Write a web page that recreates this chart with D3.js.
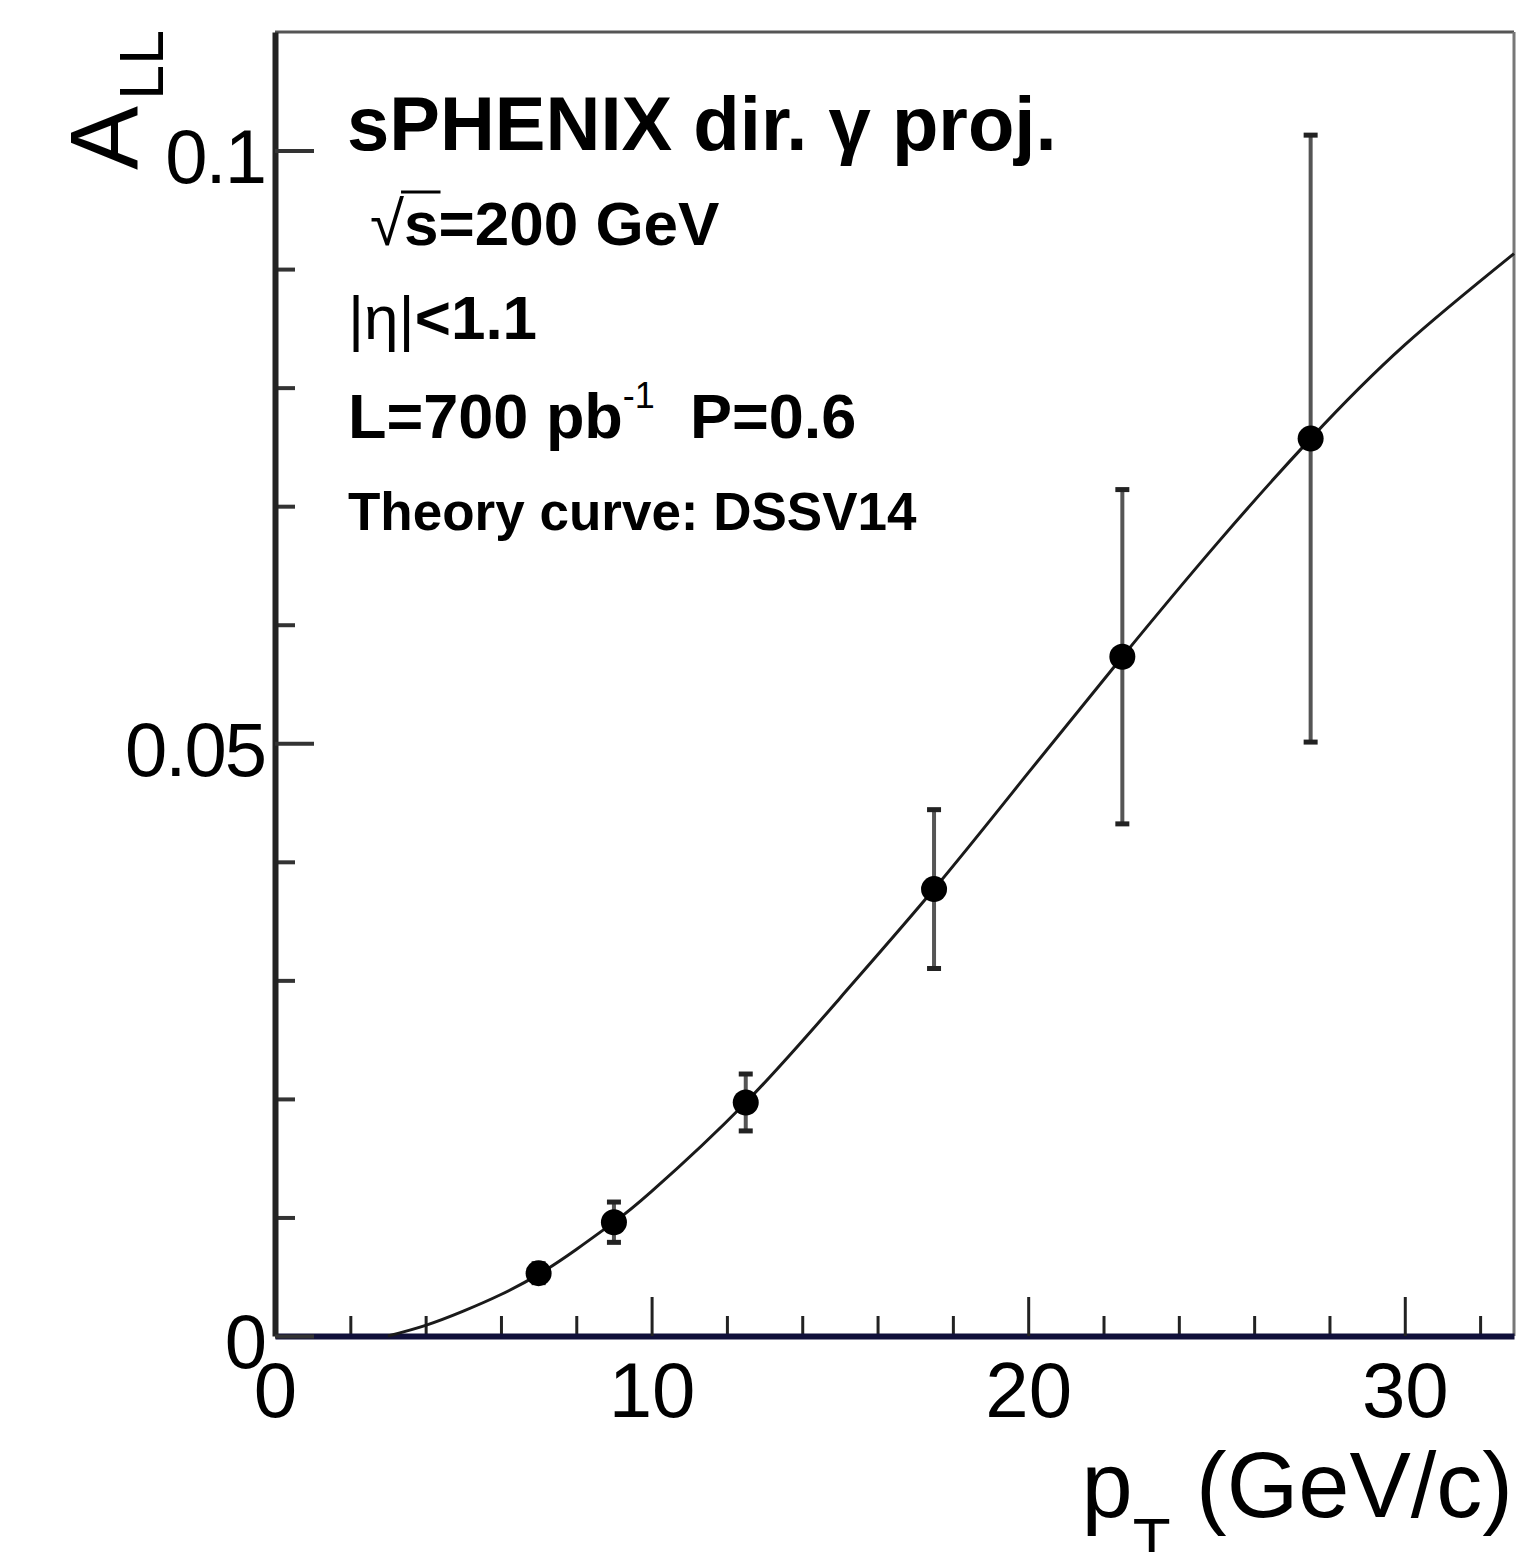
<!DOCTYPE html>
<html>
<head>
<meta charset="utf-8">
<script src="https://cdn.jsdelivr.net/npm/d3@7"></script>
<style>
  body { margin: 0; background: #fff; }
  svg { display: block; font-family: "Liberation Sans", Arial, sans-serif; }
</style>
</head>
<body>
<svg width="1521" height="1552"></svg>
<script>
// ---- Dados
const ptPoints = [7, 9, 12.5, 17.5, 22.5, 27.5];
const allPoints = [0.0053, 0.0096, 0.0197, 0.0377, 0.0573, 0.0757];
const allErrors = [0.0008, 0.0017, 0.0024, 0.0067, 0.0141, 0.0256];

const ptCurve = [3, 4, 5, 6, 7, 8, 9, 10, 12.5, 15, 17.5, 20, 22.5, 25, 27.5, 30, 32.9];
const allCurve = [0, 0.0009, 0.0021, 0.0035, 0.0052, 0.0073, 0.0096, 0.0122, 0.0197, 0.0285,
                  0.0377, 0.0475, 0.0573, 0.0668, 0.0757, 0.0836, 0.0913];

const xMajorTicks = [0, 10, 20, 30];
const xMinorTicks = [2, 4, 6, 8, 12, 14, 16, 18, 22, 24, 26, 28, 32];
const yMajorTicks = [0, 0.05, 0.1];
const yMinorTicks = [0.01, 0.02, 0.03, 0.04, 0.06, 0.07, 0.08, 0.09];

const svg = d3.select('svg');
const margens = { left: 275, right: 7, top: 32, bottom: 216 };
const W = +svg.attr('width'), H = +svg.attr('height');

// ---- Escalas
const mapX = d3.scaleLinear().domain([0, 32.9]).range([margens.left, W - margens.right]);
const mapY = d3.scaleLinear().domain([0, 0.11]).range([H - margens.bottom, margens.top]);

// ---- Moldura (topo e direita)
const [x0, x1] = mapX.range();
const [y0, y1] = mapY.range();
svg.append('line').attr('x1', x0).attr('x2', x1).attr('y1', y1).attr('y2', y1)
    .attr('stroke', '#555').attr('stroke-width', 3);
svg.append('line').attr('x1', x1).attr('x2', x1).attr('y1', y1).attr('y2', y0)
    .attr('stroke', '#777').attr('stroke-width', 3);

// ---- Eixos
const fmt = d => (d === 0 ? '0' : String(d));

svg.append('g')
    .attr('transform', `translate(0, ${y0})`)
    .call(d3.axisBottom(mapX).tickValues(xMinorTicks).tickFormat('').tickSize(-20).tickSizeOuter(0))
    .call(g => g.select('.domain').remove())
    .call(g => g.selectAll('line').attr('stroke', '#222').attr('stroke-width', 3));

svg.append('g')
    .attr('transform', `translate(0, ${y0})`)
    .call(d3.axisBottom(mapX).tickValues(xMajorTicks).tickFormat(fmt).tickSize(-39).tickSizeOuter(0).tickPadding(26))
    .call(g => g.select('.domain').attr('stroke', '#10103a').attr('stroke-width', 6))
    .call(g => g.selectAll('line').attr('stroke', '#222').attr('stroke-width', 3))
    .call(g => g.selectAll('text').attr('font-size', 78).attr('fill', '#000')
        .attr('font-family', '"Liberation Sans", Arial, sans-serif'));

svg.append('g')
    .attr('transform', `translate(${x0}, 0)`)
    .call(d3.axisLeft(mapY).tickValues(yMinorTicks).tickFormat('').tickSize(-20).tickSizeOuter(0))
    .call(g => g.select('.domain').remove())
    .call(g => g.selectAll('line').attr('stroke', '#333').attr('stroke-width', 4));

svg.append('g')
    .attr('transform', `translate(${x0}, 0)`)
    .call(d3.axisLeft(mapY).tickValues(yMajorTicks).tickFormat(fmt).tickSize(-39).tickSizeOuter(0).tickPadding(10))
    .call(g => g.select('.domain').attr('stroke', '#222').attr('stroke-width', 6))
    .call(g => g.selectAll('line').attr('stroke', '#333').attr('stroke-width', 4))
    .call(g => g.selectAll('text').attr('font-size', 76).attr('fill', '#000').attr('dy', '0.42em')
        .attr('letter-spacing', -2)
        .attr('font-family', '"Liberation Sans", Arial, sans-serif'));

// ---- Curva teórica
const curve = ptCurve.map((p, i) => ({ pt: p, all: allCurve[i] }));
svg.append('path')
    .datum(curve)
    .attr('fill', 'none')
    .attr('stroke', '#1a1a1a')
    .attr('stroke-width', 3)
    .attr('d', d3.line()
        .x(d => mapX(d.pt))
        .y(d => mapY(d.all))
        .curve(d3.curveNatural));

// ---- Pontos com barras de erro
const points = ptPoints.map((p, i) => ({ pt: p, all: allPoints[i], err: allErrors[i] }));
const gPts = svg.append('g');

gPts.selectAll('line.err').data(points).join('line')
    .attr('class', 'err')
    .attr('x1', d => mapX(d.pt)).attr('x2', d => mapX(d.pt))
    .attr('y1', d => mapY(d.all - d.err)).attr('y2', d => mapY(d.all + d.err))
    .attr('stroke', '#555').attr('stroke-width', 4);

gPts.selectAll('line.cap').data(points.flatMap(d => [d.all - d.err, d.all + d.err].map(v => ({ pt: d.pt, v }))))
    .join('line')
    .attr('class', 'cap')
    .attr('x1', d => mapX(d.pt) - 7).attr('x2', d => mapX(d.pt) + 7)
    .attr('y1', d => mapY(d.v)).attr('y2', d => mapY(d.v))
    .attr('stroke', '#222').attr('stroke-width', 5);

gPts.selectAll('circle').data(points).join('circle')
    .attr('cx', d => mapX(d.pt)).attr('cy', d => mapY(d.all))
    .attr('r', 13).attr('fill', '#000');

// ---- Títulos dos eixos
const yTitle = svg.append('text')
    .attr('transform', 'translate(137, 170) rotate(-90)')
    .attr('font-size', 96);
yTitle.append('tspan').text('A');
yTitle.append('tspan').attr('font-size', 63).attr('dy', 26).attr('dx', 6).text('LL');

const xTitle = svg.append('text')
    .attr('x', 1513).attr('y', 1517)
    .attr('text-anchor', 'end')
    .attr('font-size', 92);
xTitle.append('tspan').text('p');
xTitle.append('tspan').attr('font-size', 62).attr('dy', 44).text('T');
xTitle.append('tspan').attr('dy', -44).text('\u00a0(GeV/c)');

// ---- Textos
const info = svg.append('g').attr('font-weight', 'bold').attr('fill', '#000');

info.append('text').attr('x', 347).attr('y', 150).attr('font-size', 76)
    .text('sPHENIX dir.\u00a0γ proj.');

const sq = info.append('text').attr('x', 370).attr('y', 245).attr('font-size', 62);
sq.append('tspan').attr('font-weight', 'normal').text('√');
sq.append('tspan').text('s=200 GeV');

const eta = info.append('text').attr('x', 348).attr('y', 339).attr('font-size', 62);
eta.append('tspan').attr('font-weight', 'normal').text('|η|');
eta.append('tspan').text('<1.1');

const lum = info.append('text').attr('x', 348).attr('y', 438).attr('font-size', 63);
lum.append('tspan').text('L=700 pb');
lum.append('tspan').attr('font-size', 36).attr('font-weight', 'normal').attr('dy', -30).text('-1');
lum.append('tspan').attr('dy', 30).text('\u00a0\u00a0P=0.6');

info.append('text').attr('x', 348).attr('y', 530).attr('font-size', 53)
    .text('Theory curve: DSSV14');

// barra do radical sobre o "s"
const sqNode = sq.node();
const rEnd = sqNode.getEndPositionOfChar(0);
const sEnd = sqNode.getEndPositionOfChar(1);
info.append('line')
    .attr('x1', rEnd.x - 3).attr('x2', sEnd.x + 2)
    .attr('y1', 192).attr('y2', 192)
    .attr('stroke', '#000').attr('stroke-width', 3);
</script>
</body>
</html>
